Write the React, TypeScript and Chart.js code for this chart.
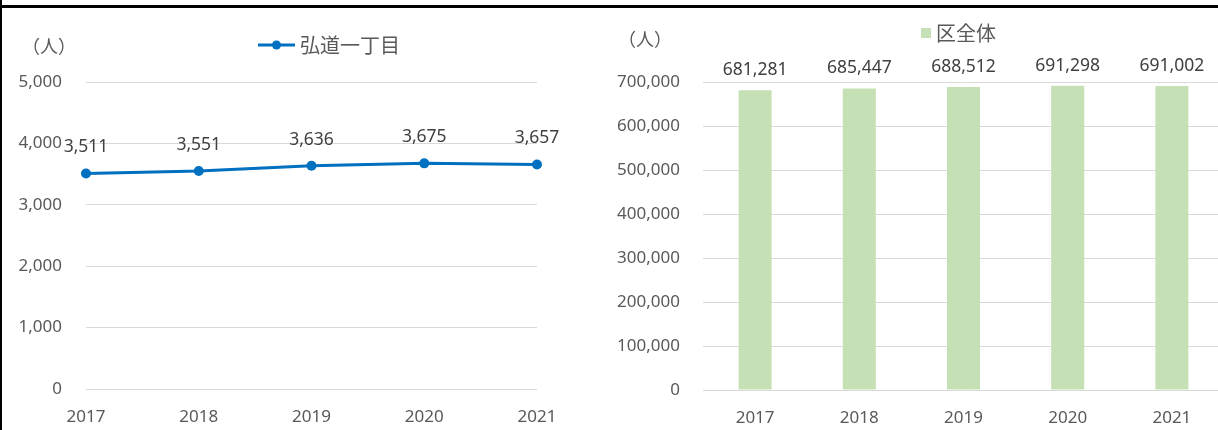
import React, { useEffect, useRef } from "react";
import { Chart, registerables } from "chart.js";

Chart.register(...registerables);

const years = ["2017", "2018", "2019", "2020", "2021"];
const townValues = [3511, 3551, 3636, 3675, 3657];
const wardValues = [681281, 685447, 688512, 691298, 691002];
const townLabel = "弘道一丁目";
const wardLabel = "区全体";
const unitLabel = "（人）";
const townTicks = { max: 5000, step: 1000 };
const wardTicks = { max: 700000, step: 100000 };

const LINE_COLOR = "#0070C0";
const BAR_COLOR = "#C5E0B4";
const GRID_COLOR = "#D9D9D9";
const TICK_COLOR = "#595959";
const LABEL_COLOR = "#404040";
const NUM_FONT = "'Noto Sans', 'Liberation Sans', sans-serif";
const CJK_FONT = "'Noto Sans CJK JP', 'Noto Sans', sans-serif";

const fmt = (v: number) => Number(v).toLocaleString("en-US");

function makeDecor(opts: {
  unitX: number;
  unitY: number;
  legendX: number;
  legendY: number;
  legendKind: "line" | "box";
  legendText: string;
  labelOffset: number;
}) {
  return {
    id: "decor",
    afterDatasetsDraw(chart: any) {
      const ctx = chart.ctx;
      ctx.save();
      const meta = chart.getDatasetMeta(0);
      const data = chart.data.datasets[0].data as number[];
      ctx.font = `17.5px ${NUM_FONT}`;
      ctx.fillStyle = LABEL_COLOR;
      ctx.textAlign = "center";
      ctx.textBaseline = "middle";
      meta.data.forEach((el: any, i: number) => {
        ctx.fillText(fmt(data[i]), el.x, el.y - opts.labelOffset);
      });
      ctx.font = `18px ${CJK_FONT}`;
      ctx.fillStyle = TICK_COLOR;
      ctx.textAlign = "left";
      ctx.fillText(unitLabel, opts.unitX, opts.unitY);
      if (opts.legendKind === "line") {
        ctx.strokeStyle = LINE_COLOR;
        ctx.lineWidth = 3;
        ctx.beginPath();
        ctx.moveTo(opts.legendX, opts.legendY);
        ctx.lineTo(opts.legendX + 37, opts.legendY);
        ctx.stroke();
        ctx.fillStyle = LINE_COLOR;
        ctx.beginPath();
        ctx.arc(opts.legendX + 18.5, opts.legendY, 4.5, 0, Math.PI * 2);
        ctx.fill();
        ctx.font = `20px ${CJK_FONT}`;
        ctx.fillStyle = TICK_COLOR;
        ctx.fillText(opts.legendText, opts.legendX + 42, opts.legendY);
      } else {
        ctx.fillStyle = BAR_COLOR;
        ctx.fillRect(opts.legendX, opts.legendY - 5, 10, 10);
        ctx.font = `20px ${CJK_FONT}`;
        ctx.fillStyle = TICK_COLOR;
        ctx.fillText(opts.legendText, opts.legendX + 15, opts.legendY);
      }
      ctx.restore();
    },
  };
}

function LineChart() {
  const ref = useRef<HTMLCanvasElement>(null);
  useEffect(() => {
    if (!ref.current) return;
    const chart = new Chart(ref.current, {
      type: "line",
      data: {
        labels: years,
        datasets: [
          {
            label: townLabel,
            data: townValues,
            borderColor: LINE_COLOR,
            backgroundColor: LINE_COLOR,
            borderWidth: 3,
            pointRadius: 5,
            pointBorderWidth: 0,
            pointBackgroundColor: LINE_COLOR,
            pointBorderColor: LINE_COLOR,
            tension: 0,
          },
        ],
      },
      options: {
        responsive: false,
        animation: false,
        layout: { padding: { top: 82, right: 63, left: 0, bottom: 0 } },
        plugins: { legend: { display: false }, tooltip: { enabled: false } },
        scales: {
          x: {
            offset: false,
            grid: { display: false, drawTicks: false },
            border: { display: false },
            ticks: { color: TICK_COLOR, font: { size: 17, family: NUM_FONT }, padding: 18, maxRotation: 0 },
            afterFit: (s: any) => {
              s.height = 41;
            },
          },
          y: {
            min: 0,
            max: townTicks.max,
            grid: { color: GRID_COLOR, lineWidth: 1, drawTicks: false },
            border: { display: false },
            ticks: {
              stepSize: townTicks.step,
              color: TICK_COLOR,
              font: { size: 17, family: NUM_FONT },
              padding: 24,
              callback: (v: any) => fmt(v),
            },
            afterFit: (s: any) => {
              s.width = 86;
            },
          },
        },
      },
      plugins: [
        makeDecor({
          unitX: 22,
          unitY: 46,
          legendX: 258,
          legendY: 45,
          legendKind: "line",
          legendText: townLabel,
          labelOffset: 26,
        }),
      ],
    } as any);
    return () => chart.destroy();
  }, []);
  return (
    <canvas
      ref={ref}
      width={600}
      height={430}
      style={{ position: "absolute", left: 0, top: 0, width: 600, height: 430 }}
    />
  );
}

function BarChart() {
  const ref = useRef<HTMLCanvasElement>(null);
  useEffect(() => {
    if (!ref.current) return;
    const chart = new Chart(ref.current, {
      type: "bar",
      data: {
        labels: years,
        datasets: [
          {
            label: wardLabel,
            data: wardValues,
            backgroundColor: BAR_COLOR,
            borderWidth: 0,
            categoryPercentage: 1,
            barPercentage: 0.317,
          },
        ],
      },
      options: {
        responsive: false,
        animation: false,
        layout: { padding: { top: 82, right: 6, left: 0, bottom: 0 } },
        plugins: { legend: { display: false }, tooltip: { enabled: false } },
        scales: {
          x: {
            offset: true,
            grid: { display: false, drawTicks: false },
            border: { display: false },
            ticks: { color: TICK_COLOR, font: { size: 17, family: NUM_FONT }, padding: 18, maxRotation: 0 },
            afterFit: (s: any) => {
              s.height = 40;
            },
          },
          y: {
            min: 0,
            max: wardTicks.max,
            grid: { color: GRID_COLOR, lineWidth: 1, drawTicks: false },
            border: { display: false },
            ticks: {
              stepSize: wardTicks.step,
              color: TICK_COLOR,
              font: { size: 17, family: NUM_FONT },
              padding: 23,
              callback: (v: any) => fmt(v),
            },
            afterFit: (s: any) => {
              s.width = 103;
            },
          },
        },
      },
      plugins: [
        makeDecor({
          unitX: 18,
          unitY: 39,
          legendX: 321,
          legendY: 33,
          legendKind: "box",
          legendText: wardLabel,
          labelOffset: 20,
        }),
      ],
    } as any);
    return () => chart.destroy();
  }, []);
  return (
    <canvas
      ref={ref}
      width={630}
      height={430}
      style={{ position: "absolute", left: 600, top: 0, width: 630, height: 430 }}
    />
  );
}

export default function App() {
  return (
    <div
      style={{
        position: "fixed",
        left: 0,
        top: 0,
        width: 1218,
        height: 430,
        overflow: "hidden",
        background: "#ffffff",
      }}
    >
      <LineChart />
      <BarChart />
      <div style={{ position: "absolute", left: 0, top: 5, width: 1218, height: 3, background: "#000" }} />
      <div style={{ position: "absolute", left: 0, top: 0, width: 2, height: 430, background: "#000" }} />
    </div>
  );
}
